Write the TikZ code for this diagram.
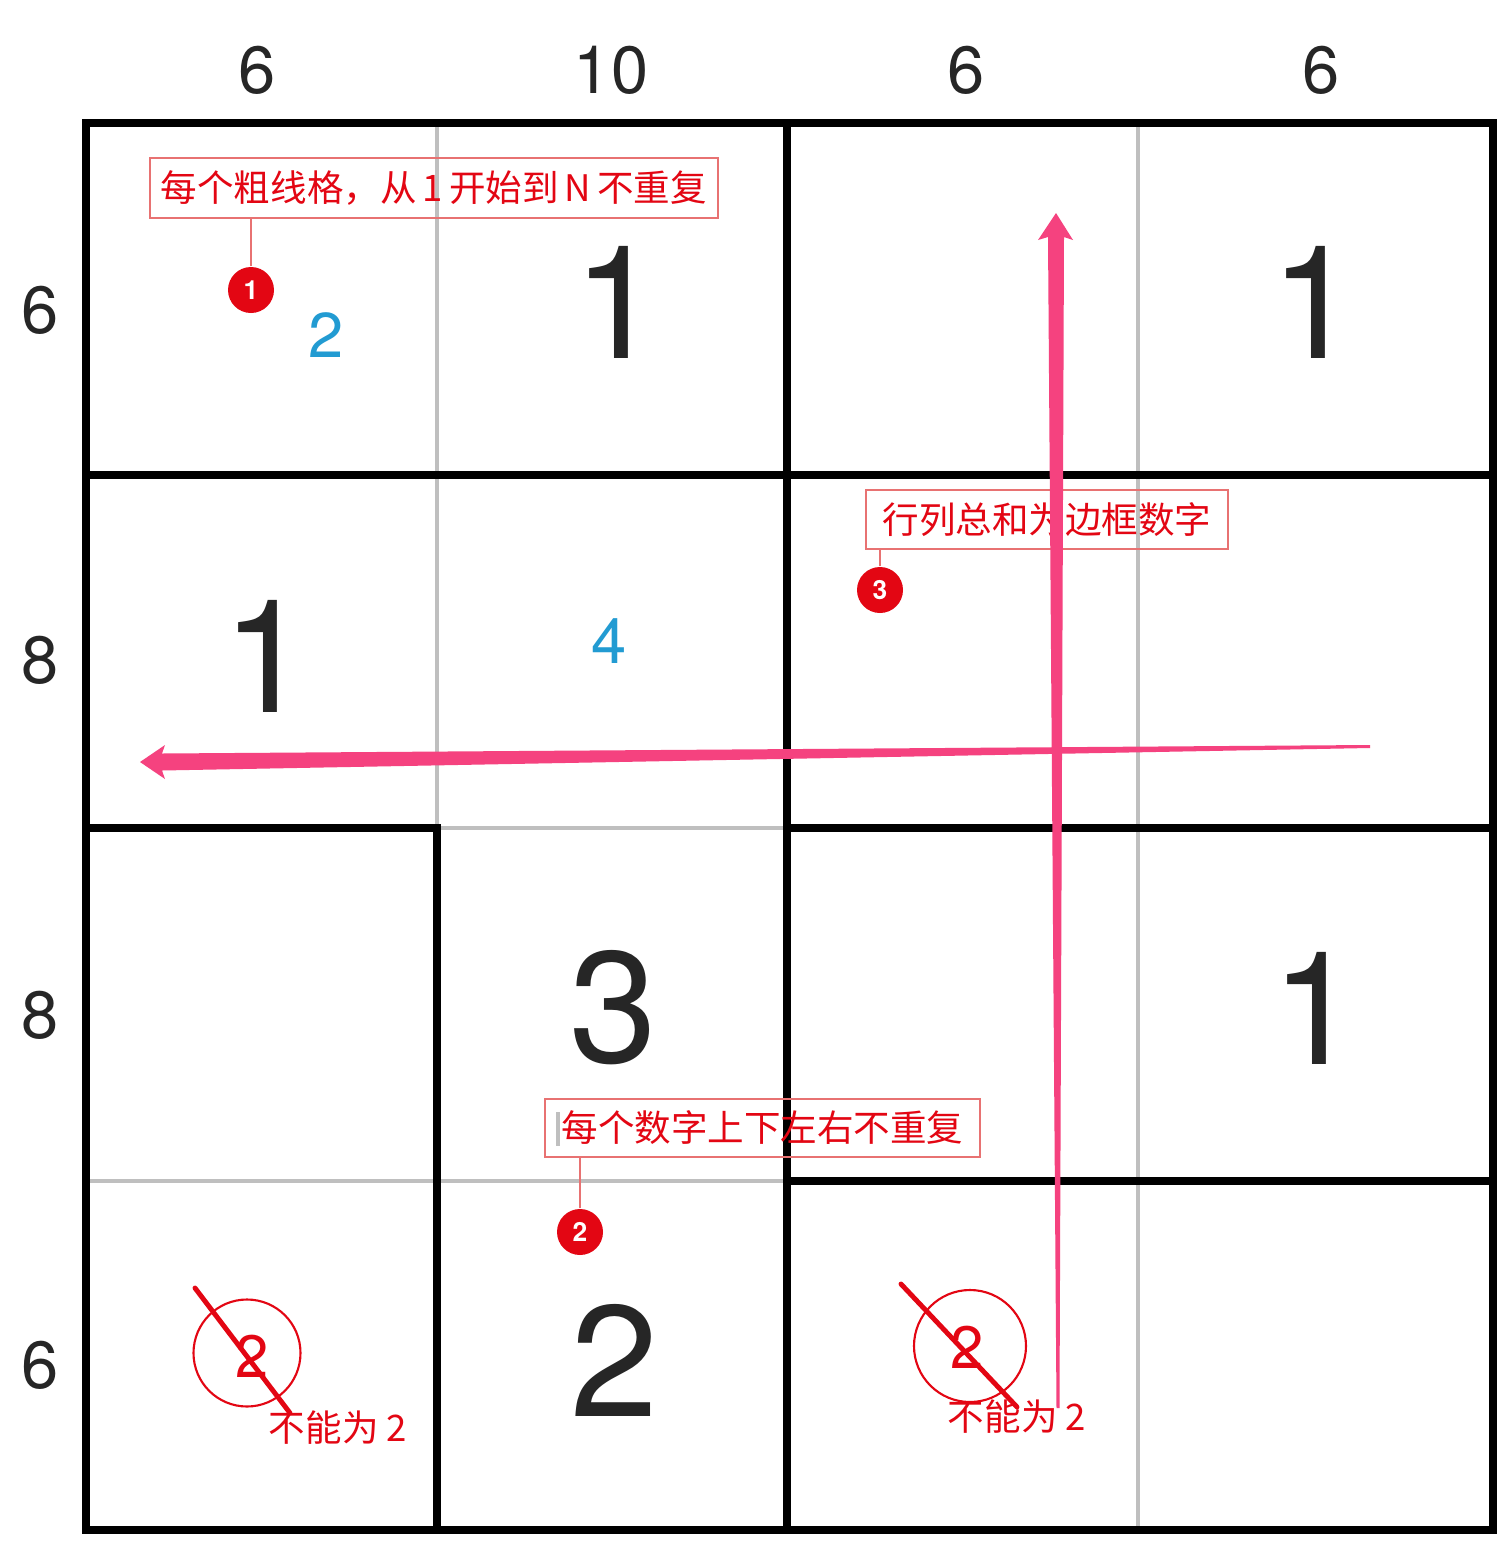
\documentclass[tikz,border=0pt]{standalone}
\usepackage{fontspec}
\setmainfont{TeX Gyre Heros}
\newfontfamily\cjk{Noto Sans CJK SC}
\usepackage{xcolor}
\usepackage{tikz}
\usetikzlibrary{calc}
\definecolor{kknoir}{HTML}{000000}
\definecolor{kkgris}{HTML}{BFBFBF}
\definecolor{kkchiffre}{HTML}{262626}
\definecolor{kkbleu}{HTML}{229BD2}
\definecolor{kkrouge}{HTML}{E30613}
\definecolor{kkrougepale}{HTML}{E87272}
\definecolor{kkrose}{HTML}{F5427F}
\tikzset{
  bord/.style={kknoir,line width=2.3pt,line cap=rect},
  fin/.style={kkgris,line width=0.95pt},
  somme/.style={text=kkchiffre,font=\fontsize{19}{19}\selectfont,inner sep=0pt},
  chiffre/.style={text=kkchiffre,font=\fontsize{45}{45}\selectfont,inner sep=0pt},
  indice/.style={text=kkbleu,font=\fontsize{18}{18}\selectfont,inner sep=0pt},
  note/.style={draw=kkrougepale,line width=0.45pt,text=kkrouge,font=\cjk\fontsize{10.4}{12}\selectfont,inner sep=0pt},
  pastille/.style={circle,fill=kkrouge,text=white,inner sep=0pt,minimum size=4.6mm,font=\bfseries\fontsize{7.5}{7.5}\selectfont},
  lien/.style={kkrougepale,line width=0.45pt},
  rond/.style={circle,draw=kkrouge,line width=0.6pt,inner sep=0pt},
  interdit/.style={text=kkrouge,font=\fontsize{17}{17}\selectfont,inner sep=0pt},
  refus/.style={text=kkrouge,font=\cjk\fontsize{10.4}{12}\selectfont,inner sep=0pt},
  barre/.style={kkrouge,line width=1.4pt,line cap=round}
}
\begin{document}
\begin{tikzpicture}[x=0.1mm,y=-0.1mm]
  \useasboundingbox (0,0) rectangle (1500,1554);
  % Fond
  \fill[white] (0,0) rectangle (1500,1554);
  % Traits fins (cellules d'une meme zone)
  \draw[fin] (437,123) -- (437,828);
  \draw[fin] (1138,123) -- (1138,1530);
  \draw[fin] (437,828) -- (787,828);
  \draw[fin] (86,1181) -- (787,1181);
  % Traits epais (zones)
  \draw[bord,line width=2.5pt] (86,123) rectangle (1493,1530);
  \draw[bord] (787,123) -- (787,1530);
  \draw[bord] (86,475) -- (1493,475);
  \draw[bord] (86,828) -- (437,828) -- (437,1530);
  \draw[bord] (787,828) -- (1493,828);
  \draw[bord] (787,1181) -- (1493,1181);
  % Sommes des colonnes
  \node[somme] (col1) at (257,70) {6};
  \node[somme] (col2) at (611,70) {10};
  \node[somme] (col3) at (966,70) {6};
  \node[somme] (col4) at (1321,70) {6};
  % Sommes des lignes
  \node[somme] (lig1) at (40,310) {6};
  \node[somme] (lig2) at (40,660) {8};
  \node[somme] (lig3) at (40,1015) {8};
  \node[somme] (lig4) at (40,1365) {6};
  % Chiffres donnes
  \node[chiffre] (c12) at (617,302) {1};
  \node[chiffre] (c14) at (1314,302) {1};
  \node[chiffre] (c21) at (266,656) {1};
  \node[chiffre] (c32) at (613,1008) {3};
  \node[chiffre] (c34) at (1315,1008) {1};
  \node[chiffre] (c42) at (614,1360) {2};
  % Chiffres trouves (bleu)
  \node[indice] (c11) at (326,335) {2};
  \node[indice] (c22) at (609,641) {4};
  % Bulle 1
  \node[note,minimum width=56.8mm,minimum height=6mm] (note1) at (434,188) {每个粗线格，从\,1\,开始到\,N\,不重复};
  \node[pastille] (p1) at (251,290) {1};
  \draw[lien] (p1) -- (p1 |- note1.south);
  % Bulle 3
  \node[note,minimum width=36.2mm,minimum height=5.9mm] (note3) at (1047,519.5) {行列总和为边框数字};
  \node[pastille] (p3) at (880,590) {3};
  \draw[lien] (p3) -- (p3 |- note3.south);
  % Bulle 2
  \node[note,minimum width=43.5mm,minimum height=5.8mm] (note2) at (762.5,1128) {每个数字上下左右不重复};
  \draw[kkgris,line width=0.9pt] (558,1112) -- (558,1146);
  \node[pastille] (p2) at (580,1232) {2};
  \draw[lien] (p2) -- (p2 |- note2.south);
  % Case interdite gauche
  \node[rond,minimum size=10.7mm] (r1) at (247,1353) {};
  \node[interdit] (x1) at (252,1356) {2};
  \node[refus] (t1) at (338,1428) {不能为 2};
  \draw[barre] (195,1288) -- (290,1413);
  % Case interdite droite
  \node[rond,minimum size=11.2mm] (r2) at (970,1346) {};
  \node[interdit] (x2) at (967,1347) {2};
  \node[refus] (t2) at (1017,1417) {不能为 2};
  \draw[barre] (901,1284) -- (1017,1407);
  % Fleches (somme ligne / colonne)
  \fill[kkrose] (1370,745) -- (162,753.5) -- (165,745) -- (140,762)
    -- (165,779) -- (162,770.5) -- (1370,748) -- cycle;
  \fill[kkrose] (1056.5,1408) -- (1048,237) -- (1038,240) -- (1056,213)
    -- (1073,240) -- (1064,237) -- (1059.5,1408) -- cycle;
\end{tikzpicture}
\end{document}
